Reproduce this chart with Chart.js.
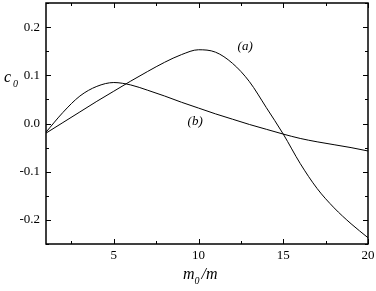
<!DOCTYPE html>
<html>
<head>
<meta charset="utf-8">
<script src="https://cdn.jsdelivr.net/npm/chart.js@4/dist/chart.umd.min.js"></script>
<style>
  html, body { margin: 0; padding: 0; background: #fff; }
  #wrap { width: 376px; height: 291px; position: relative; }
</style>
</head>
<body>
<div id="wrap"><canvas id="chart"></canvas></div>
<script>
// values
const xValues = [1, 2, 3, 4, 5, 6, 7, 8, 9, 10, 11, 12, 13, 14, 15, 16, 17, 18, 19, 20];
const curveA = [-0.020, 0.002, 0.024, 0.046, 0.067, 0.088, 0.108, 0.127, 0.143, 0.153,
                0.148, 0.125, 0.087, 0.033, -0.022, -0.083, -0.135, -0.175, -0.208, -0.237];
const curveB = [-0.018, 0.023, 0.057, 0.077, 0.085, 0.080, 0.069, 0.057, 0.044, 0.032,
                0.020, 0.009, -0.002, -0.012, -0.022, -0.031, -0.038, -0.044, -0.050, -0.057];
const xTicks = [5, 10, 15, 20];
const xMinor = [2.5, 7.5, 12.5, 17.5];
const yTicks = [-0.2, -0.1, 0.0, 0.1, 0.2];
const yMinor = [-0.25, -0.15, -0.05, 0.05, 0.15, 0.25];
const curveLabels = [{ text: '(a)', x: 12.75, y: 0.16 }, { text: '(b)', x: 9.8, y: 0.004 }];

const serif = '"Liberation Serif", "DejaVu Serif", serif';

function toPoints(ys) {
  return xValues.map((x, i) => ({ x: x, y: ys[i] }));
}

// frame, inward ticks, curve labels, axis titles
const framePlugin = {
  id: 'frame',
  afterDraw(chart) {
    const ctx = chart.ctx;
    const a = chart.chartArea;
    const xs = chart.scales.x, ys = chart.scales.y;
    ctx.save();
    ctx.strokeStyle = '#000';
    ctx.lineWidth = 1.5;
    ctx.strokeRect(a.left, a.top, a.right - a.left, a.bottom - a.top);

    ctx.lineWidth = 1;
    ctx.beginPath();
    function xt(v, len) {
      const p = Math.round(xs.getPixelForValue(v)) + 0.5;
      ctx.moveTo(p, a.bottom); ctx.lineTo(p, a.bottom - len);
      ctx.moveTo(p, a.top); ctx.lineTo(p, a.top + len);
    }
    function yt(v, len) {
      const p = Math.round(ys.getPixelForValue(v)) + 0.5;
      ctx.moveTo(a.left, p); ctx.lineTo(a.left + len, p);
      ctx.moveTo(a.right, p); ctx.lineTo(a.right - len, p);
    }
    xTicks.forEach(v => xt(v, 5));
    xMinor.forEach(v => xt(v, 3));
    yTicks.forEach(v => yt(v, 5));
    yMinor.forEach(v => yt(v, 3));
    ctx.stroke();

    ctx.fillStyle = '#000';
    ctx.font = 'italic 13px ' + serif;
    ctx.textAlign = 'center';
    ctx.textBaseline = 'middle';
    curveLabels.forEach(l => {
      ctx.fillText(l.text, xs.getPixelForValue(l.x), ys.getPixelForValue(l.y));
    });

    // y title c0
    ctx.textAlign = 'left';
    ctx.font = 'italic 16px ' + serif;
    ctx.fillText('c', 4, 78);
    ctx.font = 'italic 10px ' + serif;
    ctx.fillText('0', 13, 84);

    // x title m0/m
    ctx.font = 'italic 16px ' + serif;
    let x0 = 183;
    ctx.fillText('m', x0, 275);
    x0 += ctx.measureText('m').width;
    ctx.font = 'italic 10px ' + serif;
    ctx.fillText('0', x0, 281);
    x0 += ctx.measureText('0').width + 2;
    ctx.font = 'italic 16px ' + serif;
    ctx.fillText('/m', x0, 275);
    ctx.restore();
  }
};

new Chart(document.getElementById('chart'), {
  type: 'line',
  data: {
    datasets: [
      { label: 'a', data: toPoints(curveA), borderColor: '#000', borderWidth: 1,
        pointRadius: 0, cubicInterpolationMode: 'monotone', fill: false },
      { label: 'b', data: toPoints(curveB), borderColor: '#000', borderWidth: 1,
        pointRadius: 0, cubicInterpolationMode: 'monotone', fill: false }
    ]
  },
  options: {
    responsive: true,
    maintainAspectRatio: false,
    animation: false,
    layout: { padding: { left: 0, top: 3, right: 8, bottom: 0 } },
    plugins: { legend: { display: false }, tooltip: { enabled: false } },
    scales: {
      x: {
        type: 'linear', min: 1, max: 20,
        grid: { display: false, drawTicks: false },
        border: { display: false },
        afterBuildTicks: s => { s.ticks = xTicks.map(v => ({ value: v })); },
        afterFit: s => { s.height = 47; s.paddingLeft = 0; s.paddingRight = 0; },
        ticks: { color: '#000', padding: 4, maxRotation: 0,
                 font: { family: serif, size: 13 } }
      },
      y: {
        type: 'linear', min: -0.25, max: 0.25,
        grid: { display: false, drawTicks: false },
        border: { display: false },
        afterBuildTicks: s => { s.ticks = yTicks.map(v => ({ value: v })); },
        afterFit: s => { s.width = 46; s.paddingTop = 0; s.paddingBottom = 0; },
        ticks: { color: '#000', padding: 6,
                 font: { family: serif, size: 13 },
                 callback: v => v.toFixed(1) }
      }
    }
  },
  plugins: [framePlugin]
});
</script>
</body>
</html>
